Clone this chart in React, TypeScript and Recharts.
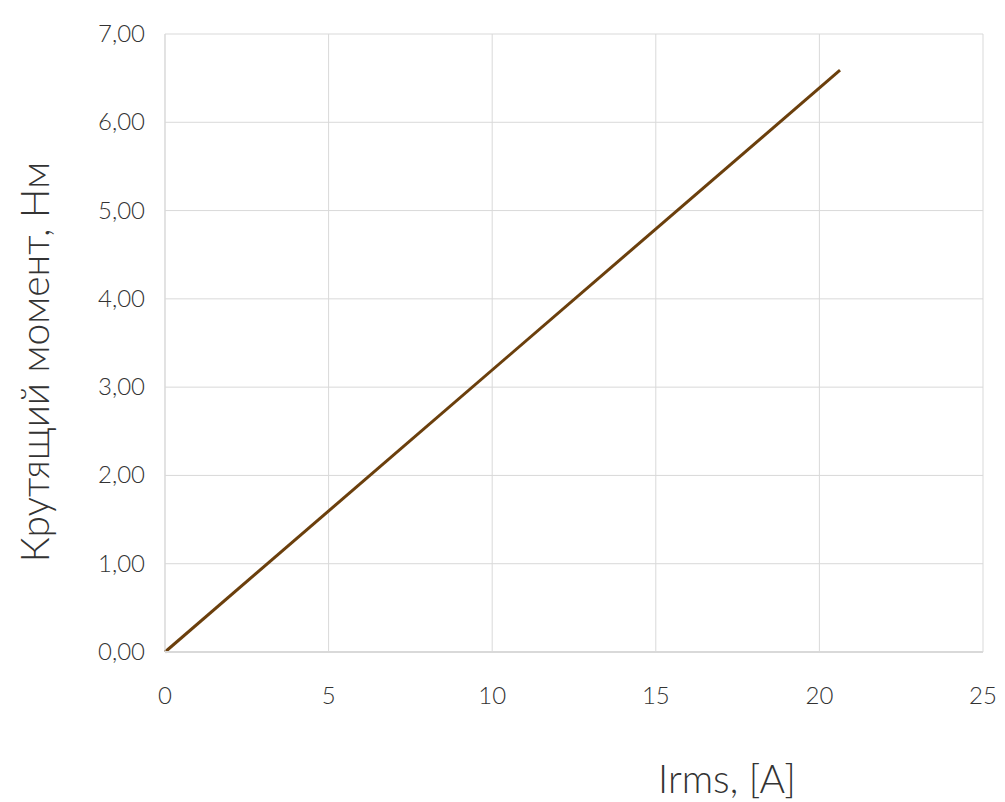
import React from 'react'
import { LineChart, Line, XAxis, YAxis, CartesianGrid, Label } from 'recharts'

const irms = [0, 20.63]
const torque = [0, 6.59]
const xTicks = [0, 5, 10, 15, 20, 25]
const yTicks = [0, 1, 2, 3, 4, 5, 6, 7]
const xTitle = 'Irms, [A]'
const yTitle = 'Крутящий момент, Нм'

const data = irms.map((x, i) => ({ x, y: torque[i] }))

const font = 'Lato, "Open Sans", sans-serif'
const textColor = '#333333'

const XTick = ({ x, y, payload }: any) => (
  <text x={x} y={y + 28} textAnchor="middle" fill={textColor} fontSize={24} fontFamily={font} fontWeight={300}>
    {payload.value}
  </text>
)

const YTick = ({ x, y, payload }: any) => (
  <text x={x} y={y + 8} textAnchor="end" fill={textColor} fontSize={24} fontFamily={font} fontWeight={300}>
    {payload.value.toFixed(2).replace('.', ',')}
  </text>
)

export default function App() {
  return (
    <div style={{ position: 'absolute', left: 0, top: 0, background: '#fff' }}>
      <LineChart width={1005} height={802} data={data} margin={{ top: 34, right: 22, bottom: 0, left: 0 }}>
        <CartesianGrid stroke="#d9d9d9" strokeWidth={1} />
        <XAxis
          dataKey="x"
          type="number"
          domain={[0, 25]}
          ticks={xTicks}
          height={150}
          tickSize={0}
          tickMargin={24}
          axisLine={{ stroke: '#d9d9d9', strokeWidth: 2 }}
          tick={<XTick />}
        >
          <Label
            content={() => (
              <text x={727} y={793} textAnchor="middle" fill={textColor} fontSize={39} fontFamily={font} fontWeight={300}>
                {xTitle}
              </text>
            )}
          />
        </XAxis>
        <YAxis
          type="number"
          domain={[0, 7]}
          ticks={yTicks}
          width={165}
          tickSize={0}
          tickMargin={20}
          axisLine={{ stroke: '#d9d9d9', strokeWidth: 1 }}
          tick={<YTick />}
        >
          <Label
            content={() => (
              <text
                x={49}
                y={362}
                transform="rotate(-90 49 362)"
                textAnchor="middle"
                fill={textColor}
                fontSize={39}
                fontFamily={font}
                fontWeight={300}
              >
                {yTitle}
              </text>
            )}
          />
        </YAxis>
        <Line
          dataKey="y"
          type="linear"
          stroke="#6b3f0c"
          strokeWidth={3}
          dot={false}
          isAnimationActive={false}
        />
      </LineChart>
    </div>
  )
}
